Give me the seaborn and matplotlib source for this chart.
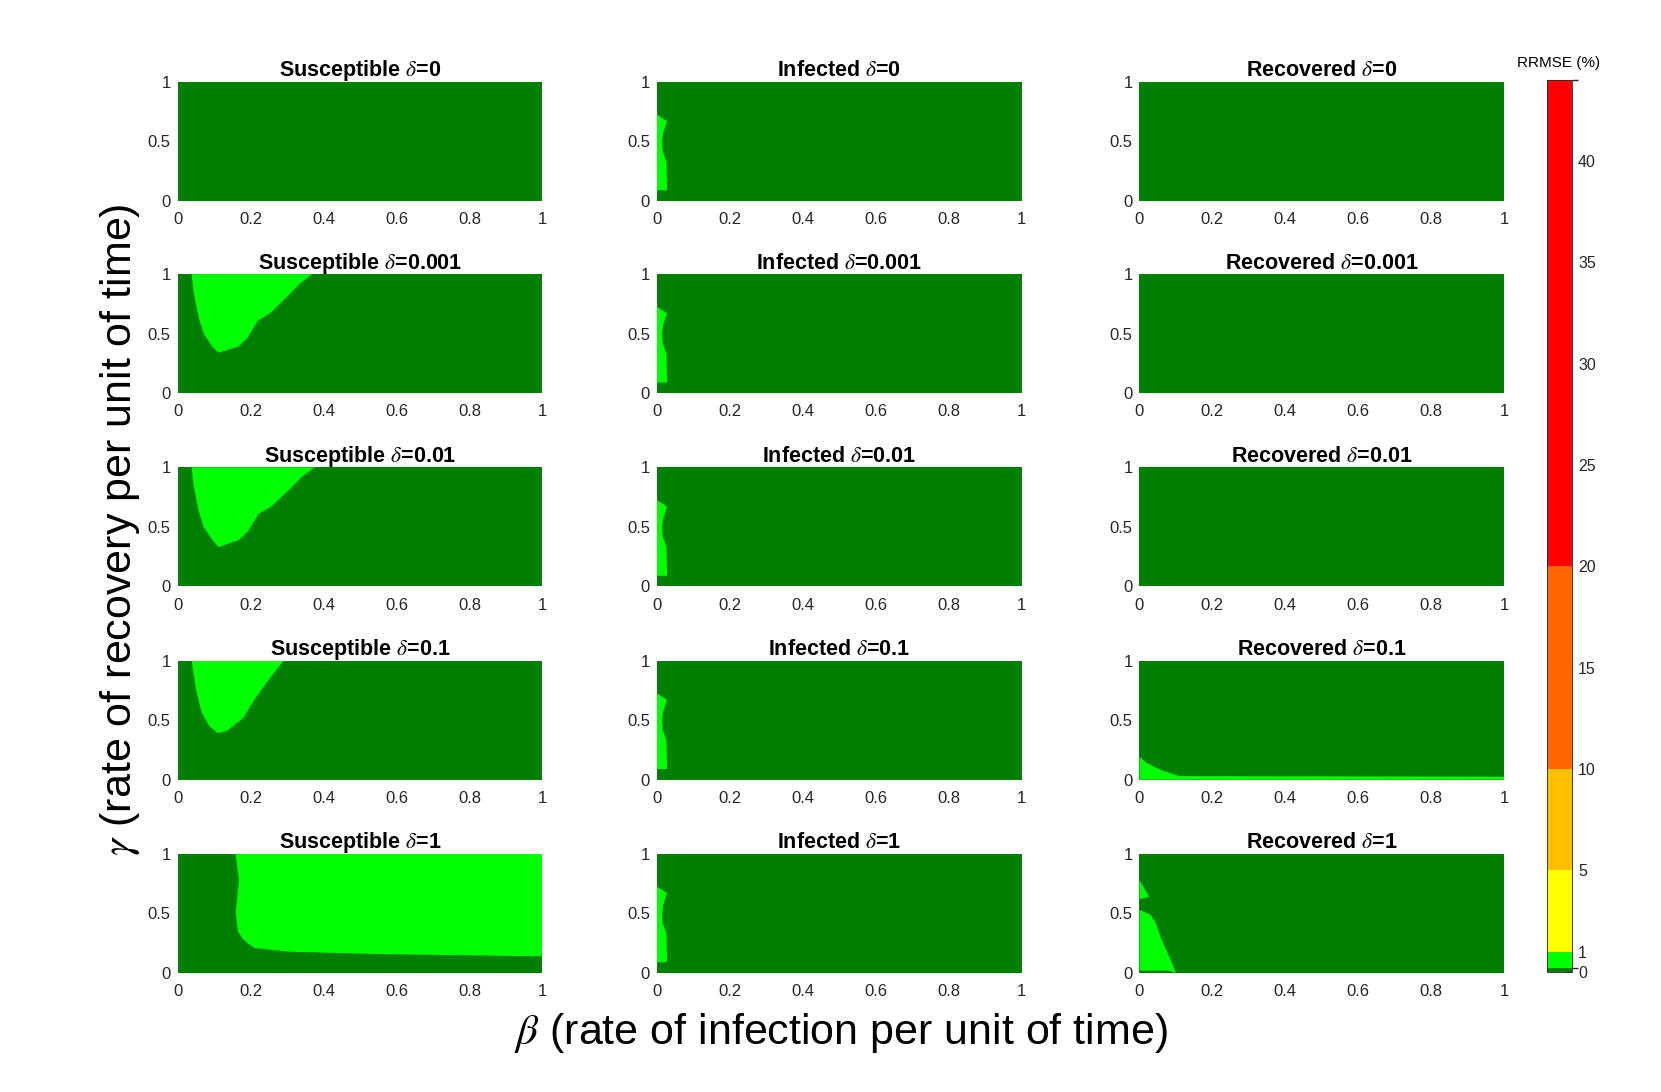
"""Recreate the SIR RRMSE contour grid (beta vs gamma, per compartment and delta)."""

import matplotlib

matplotlib.use("Agg")
import matplotlib.pyplot as plt
import seaborn as sns
from matplotlib.colors import BoundaryNorm, ListedColormap
from matplotlib.colorbar import ColorbarBase

# colour bands of the RRMSE (%) scale
RRMSE_BOUNDS = [0, 0.2, 1, 5, 10, 20, 44]
RRMSE_COLORS = ["#007f00", "#00ff00", "#ffff00", "#ffbf00", "#ff6600", "#ff0000"]
RRMSE_TICKS = [0, 1, 5, 10, 15, 20, 25, 30, 35, 40]

COMPARTMENTS = ["Susceptible", "Infected", "Recovered"]
DELTAS = ["0", "0.001", "0.01", "0.1", "1"]

BETA_TICKS = [0, 0.2, 0.4, 0.6, 0.8, 1]
BETA_LABELS = ["0", "0.2", "0.4", "0.6", "0.8", "1"]
GAMMA_TICKS = [0, 0.5, 1]
GAMMA_LABELS = ["0", "0.5", "1"]

# outlines of the 0.2-1 % (light green) regions
INF_BETA = [0.0, 0.003, 0.028, 0.018, 0.014, 0.016, 0.026, 0.028, 0.0]
INF_GAMMA = [0.72, 0.72, 0.67, 0.58, 0.50, 0.42, 0.33, 0.09, 0.09]

S001_BETA = [0.038, 0.044, 0.057, 0.071, 0.095, 0.112, 0.166, 0.19, 0.22,
             0.253, 0.30, 0.335, 0.368]
S001_GAMMA = [1.0, 0.84, 0.64, 0.50, 0.39, 0.34, 0.39, 0.46, 0.61,
              0.67, 0.81, 0.92, 1.0]

S01_BETA = [0.038, 0.044, 0.057, 0.071, 0.095, 0.112, 0.168, 0.192, 0.222,
            0.256, 0.305, 0.34, 0.376]
S01_GAMMA = [1.0, 0.84, 0.64, 0.50, 0.39, 0.33, 0.39, 0.46, 0.61,
             0.67, 0.81, 0.92, 1.0]

S1_BETA = [0.038, 0.05, 0.066, 0.087, 0.11, 0.135, 0.18, 0.21, 0.24, 0.29]
S1_GAMMA = [1.0, 0.76, 0.56, 0.45, 0.39, 0.41, 0.52, 0.67, 0.80, 1.0]

S_D1_BETA = [0.16, 1.0, 1.0, 0.76, 0.53, 0.30, 0.21, 0.18, 0.165, 0.159,
             0.168, 0.159]
S_D1_GAMMA = [1.0, 1.0, 0.14, 0.15, 0.16, 0.18, 0.21, 0.28, 0.35, 0.51,
              0.78, 1.0]

R1_BETA = [0.0, 0.0, 0.02, 0.06, 0.11, 1.0, 1.0]
R1_GAMMA = [0.0, 0.19, 0.14, 0.08, 0.03, 0.025, 0.0]

R_D1_TOP_BETA = [0.0, 0.027, 0.0]
R_D1_TOP_GAMMA = [0.78, 0.64, 0.62]
R_D1_LOW_BETA = [0.0, 0.0, 0.03, 0.045, 0.058, 0.075, 0.09, 0.10, 0.08]
R_D1_LOW_GAMMA = [0.02, 0.53, 0.49, 0.42, 0.30, 0.18, 0.08, 0.0, 0.02]

# (row, col) -> list of light-green polygons
REGIONS = {
    (0, 1): [(INF_BETA, INF_GAMMA)],
    (1, 0): [(S001_BETA, S001_GAMMA)],
    (1, 1): [(INF_BETA, INF_GAMMA)],
    (2, 0): [(S01_BETA, S01_GAMMA)],
    (2, 1): [(INF_BETA, INF_GAMMA)],
    (3, 0): [(S1_BETA, S1_GAMMA)],
    (3, 1): [(INF_BETA, INF_GAMMA)],
    (3, 2): [(R1_BETA, R1_GAMMA)],
    (4, 0): [(S_D1_BETA, S_D1_GAMMA)],
    (4, 1): [(INF_BETA, INF_GAMMA)],
    (4, 2): [(R_D1_TOP_BETA, R_D1_TOP_GAMMA), (R_D1_LOW_BETA, R_D1_LOW_GAMMA)],
}

COL_LEFT = [0.107, 0.3955, 0.686]
ROW_BOTTOM = [0.816, 0.640, 0.463, 0.286, 0.109]
PANEL_W = 0.2195
PANEL_H = 0.109
TICK_COLOR = "#262626"


def main() -> None:
    sns.set_theme(style="white")
    plt.rcParams["font.family"] = ["Liberation Sans", "DejaVu Sans"]
    plt.rcParams["mathtext.fontset"] = "stix"
    plt.rcParams["text.color"] = "black"

    fig = plt.figure(figsize=(16.61, 10.92), dpi=100)
    fig.patch.set_facecolor("white")

    for row, delta in enumerate(DELTAS):
        for col, name in enumerate(COMPARTMENTS):
            ax = fig.add_axes([COL_LEFT[col], ROW_BOTTOM[row], PANEL_W, PANEL_H])
            ax.set_facecolor(RRMSE_COLORS[0])
            for beta, gamma in REGIONS.get((row, col), []):
                ax.fill(beta, gamma, color=RRMSE_COLORS[1], lw=0)
            ax.set_xlim(0, 1)
            ax.set_ylim(0, 1)
            ax.set_xticks(BETA_TICKS, BETA_LABELS)
            ax.set_yticks(GAMMA_TICKS, GAMMA_LABELS)
            ax.tick_params(axis="x", length=0, pad=8, labelsize=12,
                           labelcolor=TICK_COLOR)
            ax.tick_params(axis="y", length=0, pad=5, labelsize=12,
                           labelcolor=TICK_COLOR)
            sns.despine(ax=ax, left=True, bottom=True)
            ax.set_title(rf"{name} $\delta$={delta}", fontsize=15.5,
                         fontweight="bold", pad=4, color="black")

    cax = fig.add_axes([0.9312, 0.110, 0.0155, 0.817])
    cmap = ListedColormap(RRMSE_COLORS)
    norm = BoundaryNorm(RRMSE_BOUNDS, cmap.N)
    cbar = ColorbarBase(cax, cmap=cmap, norm=norm, boundaries=RRMSE_BOUNDS,
                        spacing="proportional", ticks=RRMSE_TICKS)
    cbar.outline.set_linewidth(0.6)
    cbar.outline.set_edgecolor(TICK_COLOR)
    cax.tick_params(direction="in", length=5, width=0.6, labelsize=11.5,
                    color=TICK_COLOR, labelcolor=TICK_COLOR, pad=4)
    fig.text(0.9385, 0.936, "RRMSE (%)", fontsize=11, ha="center",
             va="bottom", color="black")

    fig.text(0.506, 0.054, r"$\beta$ (rate of infection per unit of time)",
             fontsize=31, ha="center", va="center", color="black")
    fig.text(0.072, 0.515, r"$\gamma$ (rate of recovery per unit of time)",
             fontsize=31, ha="center", va="center", rotation=90, color="black")

    fig.savefig("out.png", dpi=100)
    plt.close(fig)


if __name__ == "__main__":
    main()
